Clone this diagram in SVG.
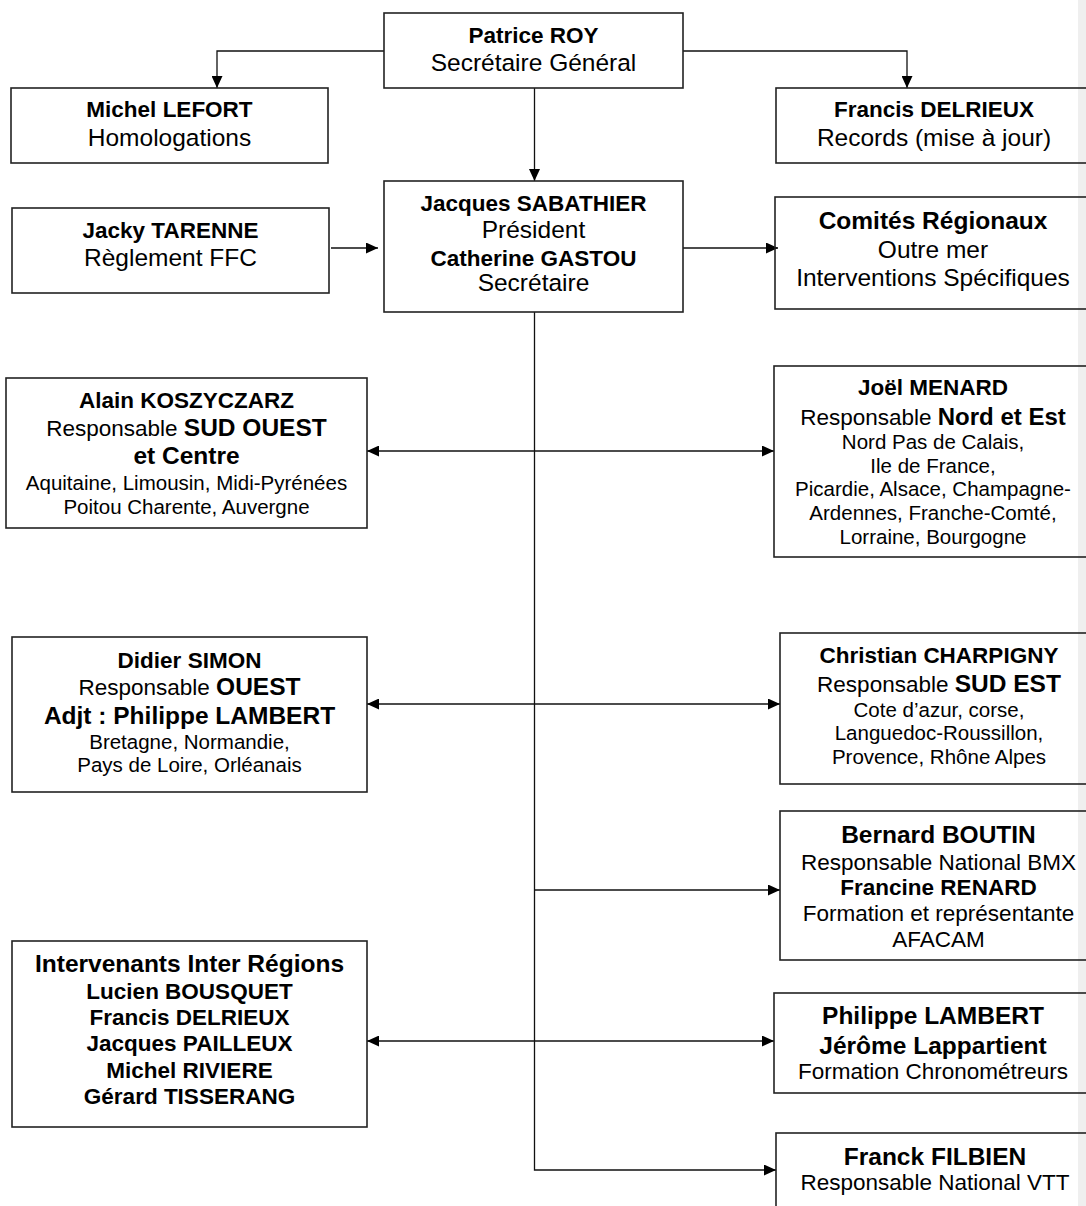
<svg xmlns="http://www.w3.org/2000/svg" width="1086" height="1206" viewBox="0 0 1086 1206">
<style>
text{font-family:"Liberation Sans",Arial,sans-serif;fill:#000;text-anchor:middle}
.box{fill:none;stroke:#222;stroke-width:1.6}
.cn{fill:none;stroke:#111;stroke-width:1.3}
.n{font-weight:bold;font-size:22.5px}
.N{font-weight:bold;font-size:24.5px}
.r{font-size:24.5px}
.m{font-size:22.5px}
.s{font-size:20.5px}
</style>
<defs>
<marker id="ah" viewBox="0 0 12 11" refX="12" refY="5.5" markerWidth="12" markerHeight="11" markerUnits="userSpaceOnUse" orient="auto-start-reverse">
<path d="M0,0 L12,5.5 L0,11 z" fill="#000"/>
</marker>
</defs>
<rect x="0" y="0" width="1086" height="1206" fill="#fff"/>
<rect x="1078" y="0" width="8" height="1206" fill="#efefef"/>

<g id="connectors">
<path class="cn" d="M384,51 H217 V88" marker-end="url(#ah)"/>
<path class="cn" d="M683,51 H907 V88" marker-end="url(#ah)"/>
<path class="cn" d="M534.5,88 V181" marker-end="url(#ah)"/>
<path class="cn" d="M331,248 H378" marker-end="url(#ah)"/>
<path class="cn" d="M683,248 H778" marker-end="url(#ah)"/>
<path class="cn" d="M534.5,312 V1170 H776" marker-end="url(#ah)"/>
<path class="cn" d="M367,451 H774" marker-start="url(#ah)" marker-end="url(#ah)"/>
<path class="cn" d="M367,704 H780" marker-start="url(#ah)" marker-end="url(#ah)"/>
<path class="cn" d="M534.5,890 H780" marker-end="url(#ah)"/>
<path class="cn" d="M367,1041 H774" marker-start="url(#ah)" marker-end="url(#ah)"/>
</g>

<g id="patrice">
<rect class="box" x="384" y="13" width="299" height="75"/>
<text class="n" x="533.5" y="43">Patrice ROY</text>
<text class="r" x="533.5" y="71">Secrétaire Général</text>
</g>

<g id="michel">
<rect class="box" x="11" y="88" width="317" height="75"/>
<text class="n" x="169.5" y="116.5">Michel LEFORT</text>
<text class="r" x="169.5" y="146">Homologations</text>
</g>

<g id="francis">
<rect class="box" x="776" y="88" width="316" height="75"/>
<text class="n" x="934" y="117">Francis DELRIEUX</text>
<text class="r" x="934" y="145.5">Records (mise à jour)</text>
</g>

<g id="jacky">
<rect class="box" x="12" y="208" width="317" height="85"/>
<text class="n" x="170.5" y="238">Jacky TARENNE</text>
<text class="r" x="170.5" y="265.5">Règlement FFC</text>
</g>

<g id="jacques">
<rect class="box" x="384" y="181" width="299" height="131"/>
<text class="n" x="533.5" y="210.5">Jacques SABATHIER</text>
<text class="r" x="533.5" y="237.5">Président</text>
<text class="n" x="533.5" y="265.5">Catherine GASTOU</text>
<text class="r" x="533.5" y="291">Secrétaire</text>
</g>

<g id="comites">
<rect class="box" x="775" y="197" width="316" height="112"/>
<text class="N" x="933" y="228.5">Comités Régionaux</text>
<text class="r" x="933" y="257.5">Outre mer</text>
<text class="r" x="933" y="286">Interventions Spécifiques</text>
</g>

<g id="alain">
<rect class="box" x="6" y="378" width="361" height="150"/>
<text class="n" x="186.5" y="407.5">Alain KOSZYCZARZ</text>
<text x="186.5" y="436"><tspan class="m">Responsable </tspan><tspan class="N">SUD OUEST</tspan></text>
<text class="N" x="186.5" y="463.5">et Centre</text>
<text class="s" x="186.5" y="489.5">Aquitaine, Limousin, Midi-Pyrénées</text>
<text class="s" x="186.5" y="513.5">Poitou Charente, Auvergne</text>
</g>

<g id="joel">
<rect class="box" x="774" y="366" width="318" height="191"/>
<text class="n" x="933" y="395">Joël MENARD</text>
<text x="933" y="424.5"><tspan class="m">Responsable </tspan><tspan class="N" style="font-size:24px">Nord et Est</tspan></text>
<text class="s" x="933" y="448.5">Nord Pas de Calais,</text>
<text class="s" x="933" y="472.5">Ile de France,</text>
<text class="s" x="933" y="496">Picardie, Alsace, Champagne-</text>
<text class="s" x="933" y="520">Ardennes, Franche-Comté,</text>
<text class="s" x="933" y="544">Lorraine, Bourgogne</text>
</g>

<g id="didier">
<rect class="box" x="12" y="637" width="355" height="155"/>
<text class="n" x="189.5" y="667.5">Didier SIMON</text>
<text x="189.5" y="695"><tspan class="m">Responsable </tspan><tspan class="N">OUEST</tspan></text>
<text class="N" x="189.5" y="723.5">Adjt : Philippe LAMBERT</text>
<text class="s" x="189.5" y="748.5">Bretagne, Normandie,</text>
<text class="s" x="189.5" y="772">Pays de Loire, Orléanais</text>
</g>

<g id="christian">
<rect class="box" x="780" y="633" width="318" height="151"/>
<text class="n" x="939" y="662.5">Christian CHARPIGNY</text>
<text x="939" y="691.5"><tspan class="m">Responsable </tspan><tspan class="N">SUD EST</tspan></text>
<text class="s" x="939" y="716.5">Cote d’azur, corse,</text>
<text class="s" x="939" y="740">Languedoc-Roussillon,</text>
<text class="s" x="939" y="763.5">Provence, Rhône Alpes</text>
</g>

<g id="bernard">
<rect class="box" x="780" y="811" width="317" height="149"/>
<text class="N" x="938.5" y="842.5">Bernard BOUTIN</text>
<text class="m" x="938.5" y="869.5">Responsable National BMX</text>
<text class="n" x="938.5" y="895">Francine RENARD</text>
<text class="m" x="938.5" y="920.5">Formation et représentante</text>
<text class="m" x="938.5" y="946.5">AFACAM</text>
</g>

<g id="intervenants">
<rect class="box" x="12" y="941" width="355" height="186"/>
<text class="N" x="189.5" y="971.5">Intervenants Inter Régions</text>
<text class="n" x="189.5" y="998.5">Lucien BOUSQUET</text>
<text class="n" x="189.5" y="1025">Francis DELRIEUX</text>
<text class="n" x="189.5" y="1050.5">Jacques PAILLEUX</text>
<text class="n" x="189.5" y="1077.5">Michel RIVIERE</text>
<text class="n" x="189.5" y="1103.5">Gérard TISSERANG</text>
</g>

<g id="philippe">
<rect class="box" x="774" y="993" width="318" height="100"/>
<text class="N" x="933" y="1023.5">Philippe LAMBERT</text>
<text class="N" x="933" y="1053.5">Jérôme Lappartient</text>
<text class="m" x="933" y="1078.5">Formation Chronométreurs</text>
</g>

<g id="franck">
<rect class="box" x="776" y="1133" width="318" height="90"/>
<text class="N" x="935" y="1165">Franck FILBIEN</text>
<text class="m" x="935" y="1190">Responsable National VTT</text>
</g>
</svg>
